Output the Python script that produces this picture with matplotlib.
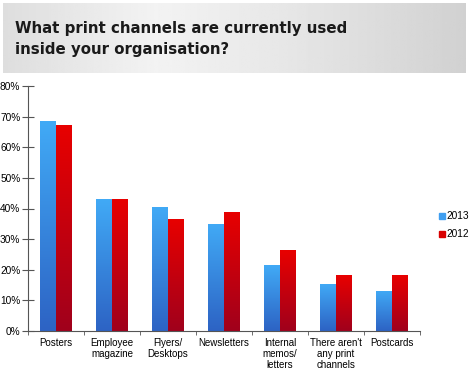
import numpy as np
import matplotlib.pyplot as plt
from matplotlib.patches import Rectangle
from matplotlib.colors import LinearSegmentedColormap

categories = ['Posters', 'Employee\nmagazine', 'Flyers/\nDesktops', 'Newsletters',
              'Internal\nmemos/\nletters', "There aren't\nany print\nchannels", 'Postcards']
vals_2013 = [68.5, 43, 40.5, 35, 21.5, 15.5, 13.2]
vals_2012 = [67.3, 43.2, 36.7, 39, 26.3, 18.2, 18.2]
yticks = [0, 10, 20, 30, 40, 50, 60, 70, 80]

plt.rcParams['font.family'] = ['Liberation Sans', 'DejaVu Sans']

fig = plt.figure(figsize=(4.7, 3.78), dpi=100)

# title banner with grey gradient
bax = fig.add_axes([3/470, 1 - 73/378, 463/470, 70/378])
xg = np.linspace(-1, 1, 256)
shade = 0.95 - 0.13 * np.clip((xg + 0.35) / 1.35, 0, 1) ** 1.2 - 0.08 * np.clip(-(xg + 0.35) / 0.65, 0, 1)
bax.imshow(np.tile(shade, (2, 1)), cmap='gray', vmin=0, vmax=1, aspect='auto',
           extent=[0, 1, 0, 1])
bax.set_xlim(0, 1)
bax.set_ylim(0, 1)
bax.axis('off')
fig.text(15/470, 1 - 39/378, 'What print channels are currently used\ninside your organisation?',
         fontsize=10.8, fontweight='bold', family=['DejaVu Sans'], color='#1a1a1a',
         va='center', ha='left', linespacing=1.55)

ax = fig.add_axes([28/470, 47/378, 392/470, 245/378])
x = np.arange(len(categories))
w = 0.285

blue_cmap = LinearSegmentedColormap.from_list('b', ['#2d63c4', '#41aaf6'])
red_cmap = LinearSegmentedColormap.from_list('r', ['#a0001c', '#e80000'])
grad = np.linspace(0, 1, 128).reshape(-1, 1)

def grad_bars(xpos, heights, cmap):
    bars = ax.bar(xpos, heights, w, color='none', edgecolor='none')
    for b in bars:
        x0, y0 = b.get_x(), b.get_y()
        im = ax.imshow(grad, cmap=cmap, aspect='auto', origin='lower',
                       extent=[x0, x0 + b.get_width(), y0, y0 + b.get_height()], zorder=2)
        im.set_clip_path(b)
    return bars

grad_bars(x - w/2, vals_2013, blue_cmap)
grad_bars(x + w/2, vals_2012, red_cmap)

ax.set_xlim(-0.5, len(categories) - 0.5)
ax.set_ylim(0, 80)
ax.set_yticks(yticks)
ax.set_yticklabels([f'{t}%' for t in yticks], fontsize=7.3)
ax.set_xticks(x)
ax.set_xticklabels(categories, fontsize=7, linespacing=1.15)
ax.tick_params(axis='x', length=0, pad=5)
ax.set_xticks(np.arange(-0.5, len(categories)), minor=True)
ax.tick_params(axis='x', which='minor', length=3, color='#555555', direction='out')
ax.tick_params(axis='y', length=8, color='#555555', direction='inout', pad=1.5)
for s in ['top', 'right']:
    ax.spines[s].set_visible(False)
for s in ['left', 'bottom']:
    ax.spines[s].set_color('#555555')

# legend
lax = fig.add_axes([0, 0, 1, 1], facecolor='none')
lax.axis('off')
lax.set_xlim(0, 470)
lax.set_ylim(378, 0)
for i, (lab, col) in enumerate([('2013', '#3f9ef0'), ('2012', '#d80000')]):
    yy = 216 + 18 * i
    lax.add_patch(Rectangle((439, yy - 3), 6, 6, color=col))
    lax.text(446, yy, lab, fontsize=7.3, va='center', ha='left')

fig.savefig('out.png', dpi=100)
